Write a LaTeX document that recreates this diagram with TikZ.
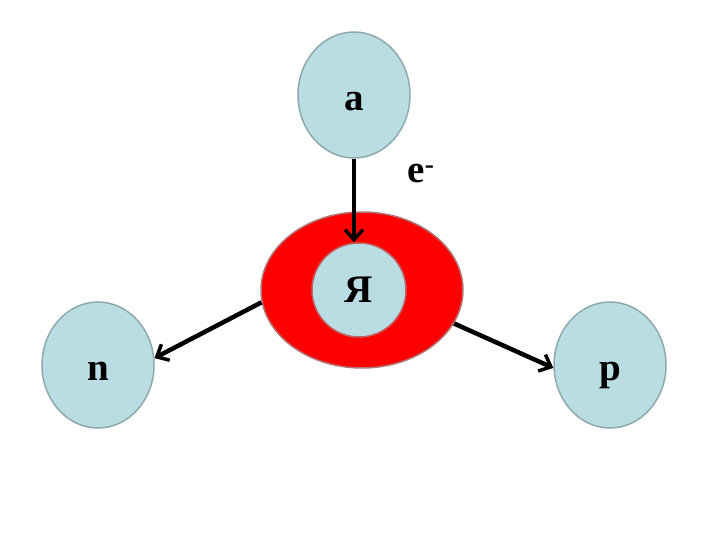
\documentclass[tikz,border=0pt]{standalone}
\usepackage{fontspec}
\setmainfont{Liberation Serif}
\usetikzlibrary{arrows.meta,shapes.geometric}
\definecolor{ballfill}{HTML}{B9DDE3}
\definecolor{balledge}{HTML}{8FA9AC}
\definecolor{shellred}{HTML}{FF0000}
\tikzset{
  >={Straight Barb[length=10pt,width=18pt,line width=3.5pt]},
  font=\fontsize{39}{45}\selectfont\bfseries,
  ball/.style  ={ellipse, draw=balledge, line width=1.5pt, fill=ballfill, minimum width=112pt, minimum height=126pt, inner sep=0pt, text height=31pt, text depth=0pt},
  shell/.style ={ellipse, draw=balledge!70!red, line width=1.5pt, fill=shellred, minimum width=202pt, minimum height=156pt, inner sep=0pt},
  core/.style  ={circle, draw=balledge!60!red, line width=1.5pt, fill=ballfill, minimum size=94pt, inner sep=0pt},
  arr/.style   ={->, line width=4.5pt},
}
\begin{document}
\begin{tikzpicture}[x=1pt,y=-1pt]
  \useasboundingbox (0,0) rectangle (720,540);
  \node[ball]  (a)     at (354,95)  {a};
  \node[shell] (outer) at (362,290) {};
  \node[core]  (inner) at (359,290) {Я};
  \node[ball]  (n)     at (98,365)  {n};
  \node[ball]  (p)     at (610,365) {p};
  \node (elec) at (421,174) {e\textsuperscript{-}};

  \draw[arr] (a.south) -- (a.south |- inner.north);
  \draw[arr] (outer.187) -- (n.7);
  \draw[arr] (outer.340) -- (p.183);
\end{tikzpicture}
\end{document}
